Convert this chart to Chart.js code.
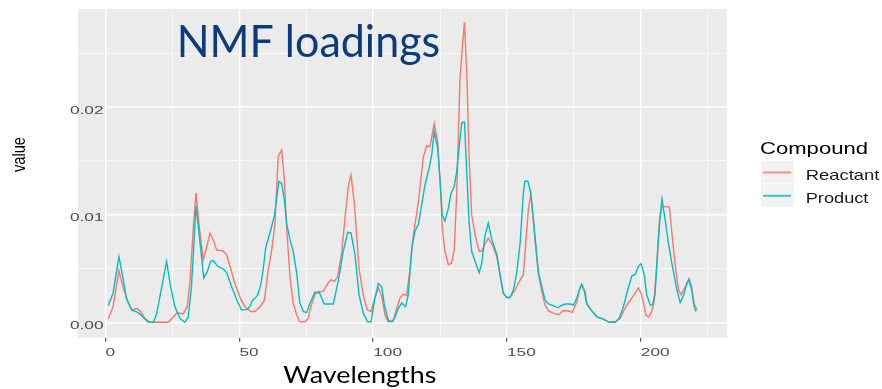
<!DOCTYPE html>
<html>
<head>
<meta charset="utf-8">
<script src="https://cdn.jsdelivr.net/npm/chart.js@4.4.1/dist/chart.umd.min.js"></script>
<style>
html, body { margin: 0; padding: 0; background: #fff; }
</style>
</head>
<body>
<canvas id="myChart" width="882" height="389"></canvas>
<script>
// values
var reactantX = [1,2.8,5,6.6,8.5,10.1,11.6,13.1,14.7,16.5,
  23.4,25.3,26.8,29,30.5,31.5,32.8,33.8,35,36.5,
  37.7,39,40.2,41.5,43.7,45.2,46.5,48.3,50.6,52.1,
  54.3,55.8,57.7,59.3,60.8,62.1,63.3,64.5,65.8,66.8,
  67.7,68.9,70.1,71.4,72.6,74.5,75.7,76.7,78.2,79.5,
  81.3,83,84.2,85.5,86.7,88.2,89.5,90.7,91.7,93,
  94.7,96.3,97.8,99.2,100.4,101.9,103.2,104.4,105.6,107.5,
  108.8,110,111.3,112.5,113.8,115,116.9,118.7,120,121.2,
  122.8,124.1,125,125.8,126.8,128.1,129.3,130.3,131.2,132.4,
  133.3,134.1,135,135.8,136.8,138.1,139.6,140.6,141.8,143,
  144.5,146.2,147.4,148.6,149.9,151.1,153,154.6,156.1,157,
  158,158.9,159.9,160.7,161.7,163,164.2,165.5,167.3,169.2,
  171.1,172.9,174.4,176.1,177.3,177.9,179.2,179.8,181.4,183.6,
  186,187.9,190.4,192.3,193.5,194.8,196.6,197.9,199.1,200.1,
  201,201.9,202.8,203.8,204.9,206,206.9,207.9,208.6,210.7,
  211.6,212.9,214.1,215.1,216.6,218,219,219.9,221];
var reactantY = [0.0003,0.00145,0.0048,0.0032,0.0018,0.0011,0.0013,0.001,0.00037,0,
  0,0.0005,0.0009,0.00077,0.00145,0.0036,0.0089,0.012,0.0089,0.0058,
  0.0069,0.0083,0.0077,0.0067,0.00665,0.0063,0.0052,0.0036,0.0021,0.00145,
  0.001,0.001,0.00145,0.002,0.0049,0.0067,0.0092,0.0154,0.016,0.0133,
  0.0086,0.00425,0.0018,0.0007,0.00005,0.00005,0.00037,0.00145,0.00255,0.00285,
  0.00285,0.0036,0.00395,0.0038,0.00425,0.0064,0.0098,0.0126,0.0137,0.011,
  0.005,0.00255,0.00115,0.001,0.0021,0.0032,0.0024,0.0007,0.00005,0.0001,
  0.0013,0.00225,0.0026,0.0025,0.005,0.0081,0.0112,0.0153,0.0164,0.0163,
  0.01845,0.0167,0.0131,0.00875,0.0066,0.00535,0.0055,0.00675,0.0119,0.0224,
  0.0255,0.0279,0.023,0.0156,0.01,0.0081,0.0066,0.0066,0.0073,0.0078,
  0.0072,0.0061,0.0044,0.0027,0.0023,0.0023,0.003,0.0038,0.0044,0.00735,
  0.0105,0.0119,0.0092,0.007,0.00455,0.00285,0.0016,0.00105,0.00085,0.0007,
  0.0011,0.00105,0.00093,0.0019,0.0032,0.00355,0.00285,0.00175,0.00115,0.0005,
  0.0003,0.00005,0,0.00037,0.001,0.0016,0.00225,0.0027,0.0032,0.0027,
  0.0018,0.0007,0.0005,0.00085,0.0018,0.0055,0.0092,0.0108,0.01075,0.0107,
  0.0083,0.0052,0.003,0.00255,0.0033,0.00405,0.0033,0.00175,0.00115];

var productX = [1,2.8,5,6.3,7.8,9.7,12.2,14,16,17.8,
  19,21,22.8,24.3,25.9,27.8,29.6,30.9,32.1,33.8,
  35.3,36.7,38,39.2,40.2,41.7,44,45.3,47.1,49,
  50.8,52.7,53.9,54.8,56.8,58,58.9,59.8,61.4,63,
  64.3,64.8,65.8,66.8,67.7,68.9,70.1,71.4,72.6,73.9,
  75.1,76.4,78.2,79.9,81.7,85.1,87,88.8,90.5,91.7,
  93.2,94.7,96.3,97.9,99.2,100.4,101.9,103.2,104.2,105.6,
  107,108.2,109.4,110.7,112.1,113.1,114.4,115.6,116.9,118.1,
  119.4,120.9,121.9,122.8,124.1,125,125.8,126.8,128.1,129.1,
  130.3,131.2,132.1,133.1,134.1,135,135.8,136.8,138.1,139.6,
  140.6,141.8,143,144.3,146.2,147.4,148.6,149.9,151.1,152.4,
  153.6,154.9,156.1,156.7,157.8,158.9,159.9,160.7,161.7,163,
  164.2,165.5,167.3,169,170.2,171.7,173.6,174.8,176.1,177,
  177.9,178.9,179.8,181.4,183.6,186,187.9,190.4,191.9,193.5,
  195.1,196.6,197.9,199.1,200.1,201.3,202.2,203.5,204.3,205.3,
  206.4,207.2,207.9,209.1,210.3,211.8,213.5,214.7,215.9,217.2,
  218,219,219.9,220.6];
var productY = [0.00155,0.0027,0.0061,0.0044,0.0022,0.00115,0.0009,0.0005,0,0,
  0.0007,0.0033,0.00565,0.0033,0.00145,0.00037,0,0.0005,0.0033,0.0108,
  0.0074,0.0041,0.0047,0.00565,0.00575,0.00525,0.00495,0.0046,0.0033,0.0021,
  0.00115,0.00115,0.00145,0.002,0.0025,0.0035,0.0049,0.0069,0.0083,0.0098,
  0.0122,0.0131,0.0129,0.0114,0.0091,0.0077,0.0066,0.0046,0.0018,0.001,
  0.0009,0.0018,0.0028,0.00275,0.0017,0.0017,0.0039,0.0066,0.00835,0.0083,
  0.0063,0.00255,0.00085,0.00005,0.00005,0.0019,0.0036,0.0033,0.0016,0.0002,
  0.00005,0.0005,0.0013,0.0018,0.00145,0.00255,0.0069,0.00845,0.0091,0.0109,
  0.0128,0.01435,0.0156,0.0177,0.0162,0.0131,0.01,0.0094,0.0106,0.012,
  0.0126,0.014,0.0162,0.01855,0.0186,0.0137,0.0094,0.0066,0.00565,0.0046,
  0.0055,0.0081,0.0092,0.0077,0.0063,0.0044,0.0027,0.0023,0.0023,0.003,
  0.00455,0.00735,0.012,0.0131,0.0131,0.012,0.0095,0.00735,0.0047,0.0033,
  0.0021,0.0017,0.00155,0.00135,0.00155,0.0017,0.0017,0.0016,0.00225,0.003,
  0.0035,0.00285,0.0017,0.00115,0.0005,0.0003,0.00005,0,0.00037,0.00145,
  0.003,0.0043,0.00445,0.0052,0.00545,0.0044,0.00255,0.0016,0.0016,0.00255,
  0.00705,0.00985,0.01145,0.0095,0.00735,0.0052,0.003,0.00185,0.00245,0.0036,
  0.00395,0.003,0.00145,0.001];

var seriesNames = ['Reactant', 'Product'];
var seriesColors = ['#F8766D', '#00BFC4'];

var xMajor = [0, 50, 100, 150, 200];
var xMinor = [25, 75, 125, 175, 225];
var xLabels = ['0', '50', '100', '150', '200'];
var yMajor = [0, 0.01, 0.02];
var yMinor = [0.005, 0.015, 0.025];
var yLabels = ['0.00', '0.01', '0.02'];

var PANEL = '#EBEBEB';

function points(xs, ys) {
  var out = [];
  for (var i = 0; i < xs.length; i++) out.push({x: xs[i], y: ys[i]});
  return out;
}

function isIn(list, v) {
  for (var i = 0; i < list.length; i++) if (Math.abs(list[i] - v) < 1e-9) return true;
  return false;
}

// draw text with a horizontal stretch
function drawText(ctx, str, x, y, font, color, sx, align) {
  ctx.save();
  ctx.font = font;
  ctx.fillStyle = color;
  ctx.textAlign = 'left';
  ctx.textBaseline = 'alphabetic';
  var w = ctx.measureText(str).width * sx;
  var left = x;
  if (align === 'right') left = x - w;
  if (align === 'center') left = x - w / 2;
  ctx.translate(left, y);
  ctx.scale(sx, 1);
  ctx.fillText(str, 0, 0);
  ctx.restore();
  return w;
}

function fitText(ctx, str, x, y, font, color, width) {
  ctx.save();
  ctx.font = font;
  var sx = width / ctx.measureText(str).width;
  ctx.restore();
  drawText(ctx, str, x, y, font, color, sx, 'left');
}

var ggPlugin = {
  id: 'gg',
  beforeDraw: function(chart) {
    var ctx = chart.ctx, a = chart.chartArea;
    ctx.save();
    ctx.fillStyle = '#fff';
    ctx.fillRect(0, 0, chart.width, chart.height);
    ctx.fillStyle = PANEL;
    ctx.fillRect(a.left, a.top, a.right - a.left, a.bottom - a.top);
    ctx.restore();
  },
  afterDraw: function(chart) {
    var ctx = chart.ctx, a = chart.chartArea;
    var xs = chart.scales.x, ys = chart.scales.y;
    var tickFont = '11.5px "Liberation Sans"';
    var i;

    // y tick labels (sit over the panel edge, like the picture)
    for (i = 0; i < yMajor.length; i++) {
      var py = ys.getPixelForValue(yMajor[i]);
      ctx.fillStyle = PANEL;
      ctx.fillRect(a.left, py - 1.5, 26.5, 3);
      drawText(ctx, yLabels[i], 103.5, py + 6.7, tickFont, '#4D4D4D', 1.5, 'right');
    }
    // x tick labels
    for (i = 0; i < xMajor.length; i++) {
      var px = xs.getPixelForValue(xMajor[i]);
      drawText(ctx, xLabels[i], px, 356, tickFont, '#4D4D4D', 1.5, 'left');
    }

    // title inside the panel
    fitText(ctx, 'NMF loadings', 176.7, 57, '44px Lato', '#0B3B7F', 263.5);
    // axis titles
    fitText(ctx, 'Wavelengths', 283.3, 383.3, '23.5px Lato', '#000', 153);

    ctx.save();
    ctx.translate(25, 172);
    ctx.rotate(-Math.PI / 2);
    ctx.font = '14px "Liberation Sans"';
    var vw = ctx.measureText('value').width;
    ctx.scale(35 / vw, 1.25);
    ctx.fillStyle = '#000';
    ctx.fillText('value', 0, 0);
    ctx.restore();

    // legend
    fitText(ctx, 'Compound', 760, 154, '17px "Liberation Sans"', '#000', 108);
    var keyTop = [161, 184.3];
    var labelBase = [180, 202.7];
    var labelW = [73.6, 62.7];
    for (i = 0; i < seriesNames.length; i++) {
      ctx.save();
      ctx.fillStyle = '#F2F2F2';
      ctx.fillRect(761, keyTop[i], 33, 22.4);
      ctx.strokeStyle = seriesColors[i];
      ctx.globalAlpha = 0.8;
      ctx.lineWidth = 2;
      ctx.beginPath();
      ctx.moveTo(763, keyTop[i] + 11.5);
      ctx.lineTo(791, keyTop[i] + 11.5);
      ctx.stroke();
      ctx.restore();
      fitText(ctx, seriesNames[i], 805.7, labelBase[i], '14.5px "Liberation Sans"', '#1A1A1A', labelW[i]);
    }
  }
};

function gridWidth(major, minor) {
  return function(c) {
    if (!c.tick) return 0;
    if (isIn(major, c.tick.value)) return 1.4;
    return 0.7;
  };
}

var ctx = document.getElementById('myChart').getContext('2d');
var chart = new Chart(ctx, {
  type: 'line',
  data: {
    datasets: [{
      label: seriesNames[0],
      data: points(reactantX, reactantY),
      borderColor: seriesColors[0],
      borderWidth: 1.4,
      pointRadius: 0,
      tension: 0,
      fill: false,
      order: 1
    }, {
      label: seriesNames[1],
      data: points(productX, productY),
      borderColor: seriesColors[1],
      borderWidth: 1.4,
      pointRadius: 0,
      tension: 0,
      fill: false,
      order: 0
    }]
  },
  options: {
    responsive: false,
    animation: false,
    devicePixelRatio: 1,
    layout: { padding: { left: 0, right: 155, top: 9, bottom: 0 } },
    plugins: { legend: { display: false }, tooltip: { enabled: false } },
    scales: {
      x: {
        type: 'linear',
        min: -10.3,
        max: 232.2,
        afterBuildTicks: function(s) {
          s.ticks = xMajor.concat(xMinor).map(function(v) { return {value: v}; });
        },
        afterFit: function(s) { s.height = 51.3; },
        ticks: { display: false },
        border: { display: false },
        grid: {
          color: '#fff',
          lineWidth: gridWidth(xMajor, xMinor),
          drawTicks: true,
          tickLength: 4,
          tickWidth: 1,
          tickColor: function(c) {
            return c.tick && isIn(xMajor, c.tick.value) ? '#333' : 'rgba(0,0,0,0)';
          }
        }
      },
      y: {
        type: 'linear',
        min: -0.00143,
        max: 0.0291,
        afterBuildTicks: function(s) {
          s.ticks = yMajor.concat(yMinor).map(function(v) { return {value: v}; });
        },
        afterFit: function(s) { s.width = 78; },
        ticks: { display: false },
        border: { display: false },
        grid: {
          color: '#fff',
          lineWidth: gridWidth(yMajor, yMinor),
          drawTicks: false
        }
      }
    }
  },
  plugins: [ggPlugin]
});
</script>
</body>
</html>
